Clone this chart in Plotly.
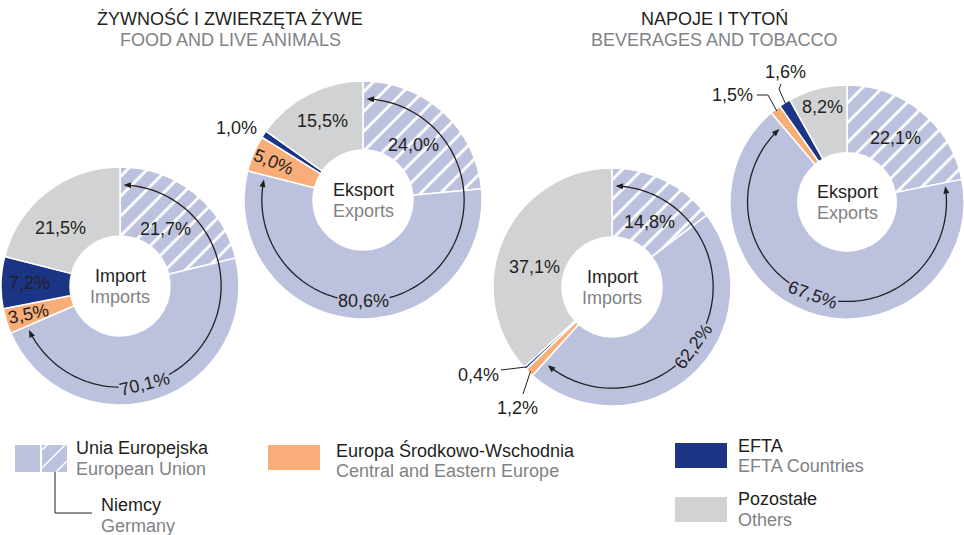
import math
import plotly.graph_objects as go

W, H = 964, 535

# Shares in %: Germany, European Union, Central & Eastern Europe, EFTA, Others
groups = ["Niemcy", "Unia Europejska", "Europa Środkowo-Wschodnia", "EFTA", "Pozostałe"]
food_imports = [21.7, 70.1, 3.5, 7.2, 21.5]
food_exports = [24.0, 80.6, 5.0, 1.0, 15.5]
bev_imports = [14.8, 62.2, 1.2, 0.4, 37.1]
bev_exports = [22.1, 67.5, 1.5, 1.6, 8.2]
# whether the EU share already includes Germany
eu_includes_germany = [True, True, True, False]

section_titles = [("ŻYWNOŚĆ I ZWIERZĘTA ŻYWE", "FOOD AND LIVE ANIMALS"),
                  ("NAPOJE I TYTOŃ", "BEVERAGES AND TOBACCO")]
flow_labels = [("Import", "Imports"), ("Eksport", "Exports")]

C_EU = "#bcc1de"
C_CEE = "#f9ad78"
C_EFTA = "#1b3584"
C_OTH = "#d1d2d4"
DARK = "#231f20"
GREY = "#808285"
FONT = "Liberation Sans, Arial, sans-serif"
FS = 18

# placement of each donut and its labels (pixel space)
# label spec: ("in", radius, angle offset, text angle) or ("out", text offset, leader points)
panels = [
    dict(values=food_imports, incl=eu_includes_germany[0], cx=120, cy=286, r=119, flow=0,
         labels={0: ("in", 73, 0, 0), 2: ("in", 96, 0, -12), 3: ("in", 91, 0, 0),
                 4: ("in", 83, -8, 0)},
         arc_label=166),
    dict(values=food_exports, incl=eu_includes_germany[1], cx=363, cy=200, r=119, flow=1,
         labels={0: ("in", 75, 0, 0), 2: ("in", 97, 0, 22), 3: ("in", 145, -4, 0),
                 4: ("in", 89, 0, 0)},
         arc_label=180),
    dict(values=bev_imports, incl=eu_includes_germany[2], cx=612, cy=287, r=119, flow=0,
         labels={0: ("in", 75, 4, 0), 4: ("in", 80, -9, 0),
                 3: ("out", (-134, 88), [(-111, 83)]),
                 2: ("out", (-95, 121), [(-89, 107)])},
         arc_label=126),
    dict(values=bev_exports, incl=eu_includes_germany[3], cx=847, cy=202, r=117, flow=1,
         labels={0: ("in", 80, -2, 0), 4: ("in", 98, 0, 0),
                 2: ("out", (-115, -107), [(-90, -107), (-79, -107)]),
                 3: ("out", (-62, -130), [(-66, -118), (-68, -113)])},
         arc_label=200),
]


def fmt(v):
    return f"{v:.1f}".replace(".", ",") + "%"


def polar(cx, cy, r, ang):
    a = math.radians(ang)
    return cx + r * math.sin(a), cy - r * math.cos(a)


fig = go.Figure()
# invisible trace so the pixel-space cartesian axes exist for shapes/annotations
fig.add_trace(go.Scatter(x=[0, W], y=[0, H], mode="markers",
                         marker=dict(size=1, opacity=0), hoverinfo="skip", showlegend=False))

shapes = []
annotations = []


def text(x, y, s, color=DARK, anchor="center", angle=0, bg=None):
    annotations.append(dict(x=x, y=y, xref="x", yref="y", text=s, showarrow=False,
                            xanchor=anchor, yanchor="middle", textangle=angle,
                            bgcolor=bg, borderpad=0,
                            font=dict(family=FONT, size=FS, color=color)))


def polyline(pts, width=1.0):
    d = "M " + " L ".join(f"{x:.2f},{y:.2f}" for x, y in pts)
    shapes.append(dict(type="path", path=d, xref="x", yref="y",
                       line=dict(color=DARK, width=width), layer="above"))


def arrowhead(cx, cy, r, ang, sign, length=7.5, half=3.0):
    tx, ty = polar(cx, cy, r, ang)
    a = math.radians(ang)
    dx, dy = sign * math.cos(a), sign * math.sin(a)
    bx, by = tx - dx * length, ty - dy * length
    px, py = -dy, dx
    d = (f"M {tx:.2f},{ty:.2f} L {bx + px * half:.2f},{by + py * half:.2f} "
         f"L {bx - px * half:.2f},{by - py * half:.2f} Z")
    shapes.append(dict(type="path", path=d, xref="x", yref="y", fillcolor=DARK,
                       line=dict(width=0), layer="above"))


for p in panels:
    g, eu, cee, efta, oth = p["values"]
    eu_rest = eu - g if p["incl"] else eu
    slices = [g, eu_rest, cee, efta, oth]
    texts = [g, eu, cee, efta, oth]
    cx, cy, r = p["cx"], p["cy"], p["r"]
    colors = [C_EU, C_EU, C_CEE, C_EFTA, C_OTH]

    fig.add_trace(go.Pie(
        values=slices, labels=groups, sort=False, direction="clockwise", rotation=0,
        hole=0.42, textinfo="none", hoverinfo="skip", showlegend=False,
        marker=dict(colors=colors,
                    line=dict(color="white", width=1.5),
                    pattern=dict(shape=["/", "", "", "", ""], fgcolor="white",
                                 bgcolor=colors, fillmode="replace",
                                 size=14, solidity=0.2)),
        domain=dict(x=[max(0, (cx - r) / W), min(1, (cx + r) / W)],
                    y=[1 - (cy + r) / H, 1 - (cy - r) / H]),
    ))

    tot = sum(slices)
    bounds = [0.0]
    for v in slices:
        bounds.append(bounds[-1] + v / tot * 360)
    mids = [(bounds[i] + bounds[i + 1]) / 2 for i in range(5)]

    # slice labels
    for i, spec in p["labels"].items():
        if spec[0] == "in":
            _, rr, dang, rot = spec
            x, y = polar(cx, cy, rr, mids[i] + dang)
            text(x, y, fmt(texts[i]), angle=rot)
        else:
            _, (ox, oy), leader = spec
            text(cx + ox, cy + oy, fmt(texts[i]))
            pts = [(cx + lx, cy + ly) for lx, ly in leader]
            pts.append(polar(cx, cy, r - 2, mids[i]))
            polyline(pts, width=1.0)

    # double-headed arc spanning the EU share
    ra = 0.85 * r
    a0 = (0.0 if p["incl"] else bounds[1]) + 2.0
    a1 = bounds[2] - 2.5
    head = math.degrees(7.0 / ra)
    n = 120
    arc = [polar(cx, cy, ra, a0 + head + (a1 - a0 - 2 * head) * k / n) for k in range(n + 1)]
    polyline(arc, width=1.3)
    arrowhead(cx, cy, ra, a0, -1)
    arrowhead(cx, cy, ra, a1, 1)
    lx, ly = polar(cx, cy, ra, p["arc_label"])
    text(lx, ly, fmt(eu), angle=p["arc_label"] - 180, bg=C_EU)

    # centre caption
    top, bottom = flow_labels[p["flow"]]
    text(cx, cy - 10.5, top)
    text(cx, cy + 10.5, bottom, color=GREY)

# section headings
for (pl, en), x in zip(section_titles, [230, 714]):
    text(x, 18.5, pl)
    text(x, 40, en, color=GREY)

# legend
def rect(x0, y0, x1, y1, color):
    shapes.append(dict(type="rect", x0=x0, y0=y0, x1=x1, y1=y1, xref="x", yref="y",
                       fillcolor=color, line=dict(width=0), layer="above"))


rect(15, 445, 40, 472, C_EU)
rect(42, 445, 67, 472, C_EU)
for c in (-22, -4, 14):
    hx0, hy0, hx1, hy1 = 42, 445, 67, 472
    w, h = hx1 - hx0, hy1 - hy0
    u0, u1 = max(0, c), min(w, h + c)
    if u1 > u0:
        shapes.append(dict(type="line", xref="x", yref="y",
                           x0=hx0 + u0, y0=hy1 - (u0 - c), x1=hx0 + u1, y1=hy1 - (u1 - c),
                           line=dict(color="white", width=1.6), layer="above"))
polyline([(55, 472), (55, 513), (92, 513)], width=1.0)
text(75, 448, "Unia Europejska", anchor="left")
text(75, 469, "European Union", color=GREY, anchor="left")
text(100, 505, "Niemcy", anchor="left")
text(100, 526, "Germany", color=GREY, anchor="left")

rect(268, 445, 320, 470, C_CEE)
text(335, 450, "Europa Środkowo-Wschodnia", anchor="left")
text(335, 471, "Central and Eastern Europe", color=GREY, anchor="left")

rect(675, 443, 727, 468, C_EFTA)
text(737, 446, "EFTA", anchor="left")
text(737, 466, "EFTA Countries", color=GREY, anchor="left")

rect(675, 497, 727, 522, C_OTH)
text(737, 499, "Pozostałe", anchor="left")
text(737, 520, "Others", color=GREY, anchor="left")

fig.update_layout(
    width=W, height=H, autosize=False,
    margin=dict(l=0, r=0, t=0, b=0, pad=0),
    paper_bgcolor="white", plot_bgcolor="white",
    xaxis=dict(range=[0, W], visible=False, fixedrange=True),
    yaxis=dict(range=[H, 0], visible=False, fixedrange=True),
    shapes=shapes, annotations=annotations, showlegend=False,
)

fig.write_html("out.html", config={"displayModeBar": False})
